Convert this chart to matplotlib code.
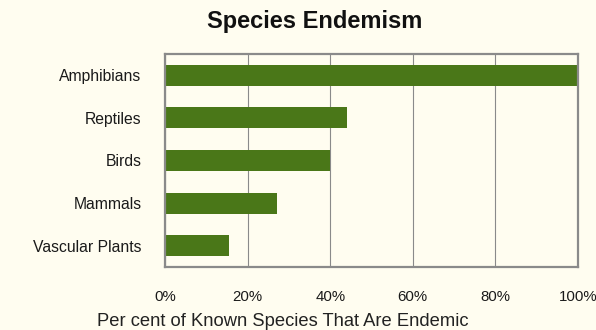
# horizontal bar chart of species endemism
import matplotlib.pyplot as plt
from matplotlib.ticker import PercentFormatter

# data, top to bottom
groups = ["Amphibians", "Reptiles", "Birds", "Mammals", "Vascular Plants"]
endemic_pct = [100, 44, 40, 27, 15.5]
xticks = [0, 20, 40, 60, 80, 100]

bg = "#fffdf0"
green = "#4a7718"
frame = "#8a8a8a"

plt.rcParams['font.family'] = ['Liberation Sans', 'DejaVu Sans']

fig = plt.figure(figsize=(5.96, 3.30), dpi=100, facecolor=bg)
ax = fig.add_axes([165/596, 1 - 267/330, 413/596, 213/330])
ax.set_facecolor(bg)

# y positions: first category at the top
ypos = list(range(len(groups)))
ax.barh(ypos, endemic_pct, height=0.49, color=green, zorder=3)
ax.set_ylim(len(groups) - 0.5, -0.5)
ax.set_yticks(ypos)
ax.set_yticklabels(groups, fontsize=11.3, color="#1a1a1a")

ax.set_xlim(0, 100)
ax.set_xticks(xticks)
ax.xaxis.set_major_formatter(PercentFormatter(decimals=0))
ax.tick_params(axis='x', length=0, pad=16.5, labelsize=10.8, labelcolor="#1a1a1a")
ax.tick_params(axis='y', length=0, pad=17)

# vertical gridlines only
ax.grid(axis='x', color=frame, linewidth=0.8, zorder=1)
ax.set_axisbelow(True)
for s in ax.spines.values():
    s.set_color(frame)
    s.set_linewidth(1.6)
    s.set_zorder(4)

fig.text(315/596, 1 - 28/330, "Species Endemism", ha='center', va='baseline',
         fontsize=17, fontweight='bold', color="#111111")
fig.text(283/596, 1 - 326/330, "Per cent of Known Species That Are Endemic",
         ha='center', va='baseline', fontsize=13.2, color="#222222")

fig.savefig("out.png", dpi=100, facecolor=bg)
